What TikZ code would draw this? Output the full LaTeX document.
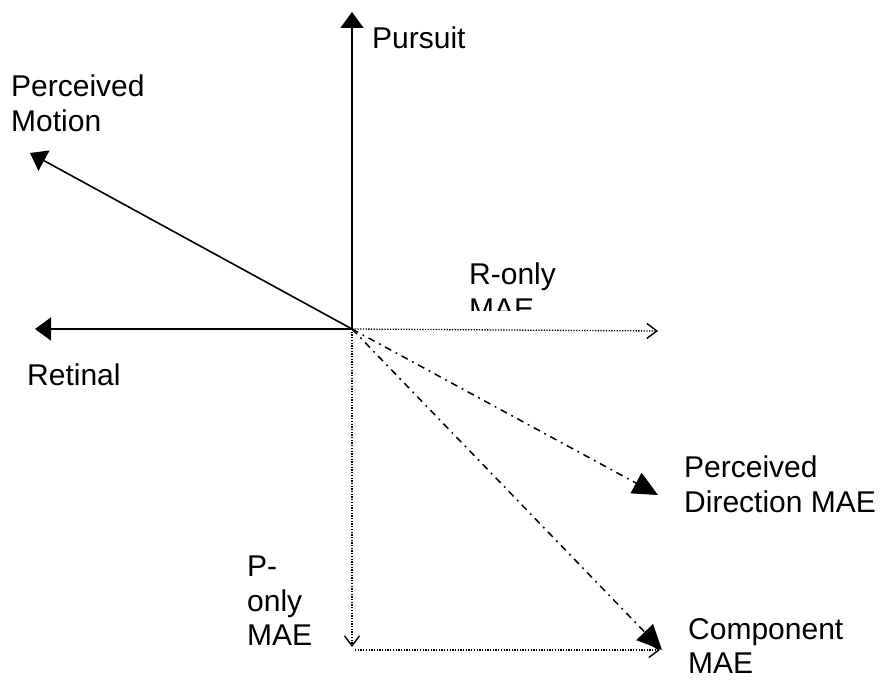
\documentclass[tikz,border=0pt]{standalone}
\usepackage{fontspec}
\setmainfont{Liberation Sans}
\usetikzlibrary{arrows.meta, positioning}

\begin{document}
\begin{tikzpicture}[
  x=1pt, y=-1pt,
  font=\fontsize{30}{34.5}\selectfont,
  lbl/.style={anchor=north west, align=left, inner sep=0pt},
  solidarr/.style={-{Triangle[length=16pt,width=23pt]}, line width=1.6pt},
  dotarr/.style={-{Straight Barb[length=10pt,width=15pt,line width=1.4pt]}, line width=1.3pt,
                 dash pattern=on 1.3pt off 1.4pt},
  dasharr/.style={-{Triangle[length=25pt,width=23pt]}, line width=1.5pt,
                  dash pattern=on 7pt off 5pt on 1.8pt off 5pt},
]
\useasboundingbox (0,0) rectangle (890,682);

% origin and arrow ends
\coordinate (o) at (352,329);
\coordinate (pursuitTip) at (352,12);
\coordinate (motionTip) at (30,153);
\coordinate (retinalTip) at (35,329);
\coordinate (ronlyTip) at (658,331);
\coordinate (ponlyTip) at (352,647);
\coordinate (dirTip) at (658,495);
\coordinate (compTip) at (662,650);
\coordinate (baseStart) at (355,650);
\coordinate (baseTip) at (660,650);

% labels
\node[lbl] (pursuit) at (372,27) {Pursuit};
\node[lbl] (motion) at (11,75) {Perceived\\Motion};
\node[lbl] (retinal) at (27,364) {Retinal};
\begin{scope}
  \clip (0,0) rectangle (890,310);
  \node[lbl] (ronly) at (469,263) {R-only\\MAE};
\end{scope}
\node[lbl] (dirmae) at (684,456) {Perceived\\Direction MAE};
\node[lbl] (ponly) at (247,556) {P-\\only\\MAE};
\node[lbl] (compmae) at (688,618) {Component\\MAE};

% arrows
\draw[solidarr] (o) -- (pursuitTip);
\draw[solidarr] (o) -- (motionTip);
\draw[solidarr] (o) -- (retinalTip);
\draw[dotarr] (o) -- (ronlyTip);
\draw[dotarr] (o) -- (ponlyTip);
\draw[dotarr] (baseStart) -- (baseTip);
\draw[dasharr] (o) -- (dirTip);
\draw[dasharr] (o) -- (compTip);
\end{tikzpicture}
\end{document}
